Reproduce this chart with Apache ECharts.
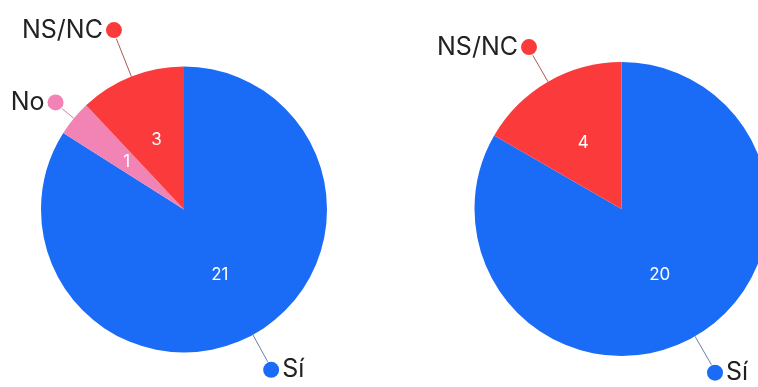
<!DOCTYPE html>
<html>
<head>
<meta charset="utf-8">
<script src="https://cdn.jsdelivr.net/npm/echarts@6/dist/echarts.min.js"></script>
<style>
html,body{margin:0;padding:0;background:#fff;}
#c{width:758px;height:387px;}
</style>
</head>
<body>
<div id="c"></div>
<script>
const categoriesLeft = ['Sí', 'No', 'NS/NC'];
const valuesLeft = [21, 1, 3];
const categoriesRight = ['Sí', 'NS/NC'];
const valuesRight = [20, 4];
const colorMap = { 'Sí': '#1a6bf5', 'No': '#f283b5', 'NS/NC': '#fb3b3b' };
const lineColorMap = { 'Sí': '#6680b0', 'No': '#c98aa5', 'NS/NC': '#a85a55' };
const lineLenLeft = { 'Sí': 40, 'No': 25, 'NS/NC': 50 };
const lineLenRight = { 'Sí': 42, 'NS/NC': 40 };
const rightSide = { 'Sí': true, 'No': false, 'NS/NC': false };

const FONT = 'Inter, "Noto Sans", sans-serif';

function dotRich(name) {
  return {
    t: { fontFamily: FONT, fontSize: 25, color: '#222', padding: rightSide[name] ? [0, 0, 0, 3] : [0, 3, 0, 0] },
    d: { width: 16, height: 16, borderRadius: 9, backgroundColor: colorMap[name], borderColor: '#fff', borderWidth: 1 }
  };
}

function outerData(cats, vals, lens) {
  return cats.map((c, i) => ({
    name: c,
    value: vals[i],
    itemStyle: { color: colorMap[c] },
    label: {
      formatter: rightSide[c] ? '{d|}{t|' + c + '}' : '{t|' + c + '}{d|}',
      rich: dotRich(c)
    },
    labelLine: { length: lens[c], length2: 0, lineStyle: { color: lineColorMap[c], width: 1 } }
  }));
}

function innerData(cats, vals) {
  return cats.map((c, i) => ({ name: c, value: vals[i] }));
}

function pies(center, radius, cats, vals, lens) {
  return [
    {
      type: 'pie',
      center: center,
      radius: radius,
      startAngle: 90,
      clockwise: true,
      silent: true,
      avoidLabelOverlap: false,
      emphasis: { disabled: true },
      label: { show: true, position: 'outside', distanceToLabelLine: -9 },
      labelLine: { show: true, smooth: false },
      data: outerData(cats, vals, lens)
    },
    {
      type: 'pie',
      center: center,
      radius: radius,
      startAngle: 90,
      clockwise: true,
      silent: true,
      emphasis: { disabled: true },
      itemStyle: { color: 'rgba(0,0,0,0)' },
      label: { show: true, position: 'inside', formatter: '{c}', color: '#fff', fontFamily: FONT, fontSize: 17 },
      labelLine: { show: false },
      data: innerData(cats, vals)
    }
  ];
}

const chart = echarts.init(document.getElementById('c'), null, { renderer: 'canvas' });
chart.setOption({
  animation: false,
  backgroundColor: '#fff',
  series: [
    ...pies([184, 209.5], 143, categoriesLeft, valuesLeft, lineLenLeft),
    ...pies([621.5, 209], 147, categoriesRight, valuesRight, lineLenRight)
  ]
});
</script>
</body>
</html>
